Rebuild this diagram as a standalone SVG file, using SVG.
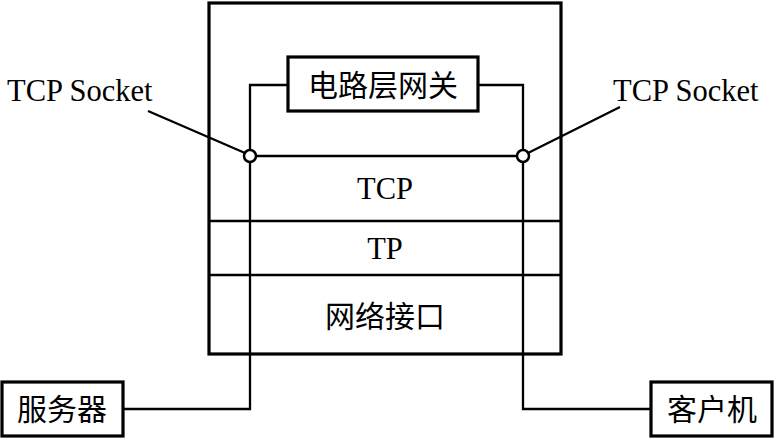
<svg xmlns="http://www.w3.org/2000/svg" width="774" height="438" viewBox="0 0 774 438">
<style>
.box{fill:#fff;stroke:#000;stroke-width:3.2}
.ln{fill:none;stroke:#000;stroke-width:2.3}
.t{font-family:"Liberation Serif","Noto Sans CJK SC",serif;font-size:30.5px;fill:#000}
.c{text-anchor:middle}
.zh{font-family:"Liberation Serif","Noto Sans CJK SC",serif;font-size:30px;fill:#000;text-anchor:middle}
.dot{fill:#fff;stroke:#000;stroke-width:2.5}
</style>
<rect width="774" height="438" fill="#fff"/>
<g id="host">
<rect class="box" x="209" y="3" width="352" height="351"/>
<line class="ln" x1="209" y1="221" x2="561" y2="221"/>
<line class="ln" x1="209" y1="275" x2="561" y2="275"/>
<text class="t c" x="385" y="199">TCP</text>
<text class="t c" x="385" y="259">TP</text>
<text class="zh" x="385" y="327">网络接口</text>
</g>
<g id="connectors">
<polyline class="ln" points="288,85 250,85 250,409 123,409"/>
<polyline class="ln" points="478,85 523,85 523,409 651,409"/>
<line class="ln" x1="250" y1="156" x2="523" y2="156"/>
<line class="ln" x1="148" y1="111" x2="245" y2="153"/>
<line class="ln" x1="528" y1="153" x2="620" y2="107"/>
</g>
<g id="gateway">
<rect class="box" x="288" y="57" width="190" height="54"/>
<text class="zh" x="383" y="96">电路层网关</text>
</g>
<g id="socket-left">
<circle class="dot" cx="250" cy="156" r="6"/>
<text class="t" x="7" y="101">TCP Socket</text>
</g>
<g id="socket-right">
<circle class="dot" cx="523" cy="156" r="6"/>
<text class="t" x="613" y="101">TCP Socket</text>
</g>
<g id="server">
<rect class="box" x="2" y="382" width="121" height="54"/>
<text class="zh" x="62" y="420">服务器</text>
</g>
<g id="client">
<rect class="box" x="651" y="382" width="121" height="54"/>
<text class="zh" x="712" y="420">客户机</text>
</g>
</svg>
